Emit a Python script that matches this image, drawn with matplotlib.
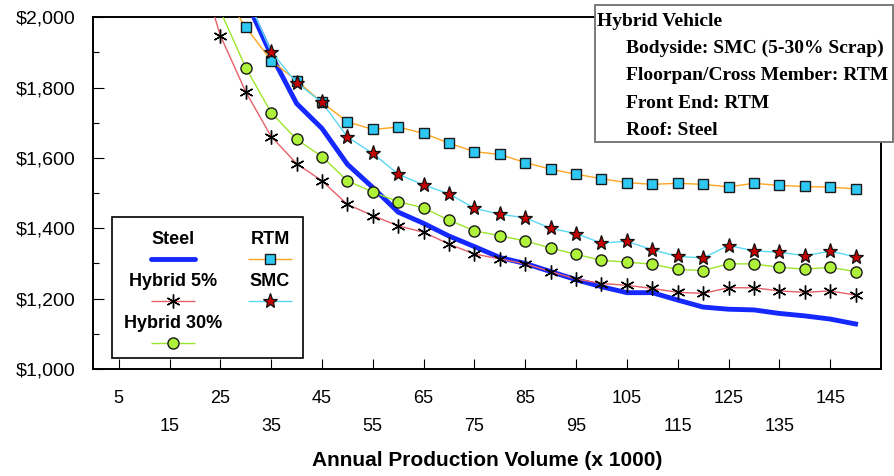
import numpy as np
import matplotlib
matplotlib.use("Agg")
import matplotlib.pyplot as plt
from matplotlib.patches import Rectangle
from matplotlib.lines import Line2D

# ---- data -------------------------------------------------------------
volume = [20, 25, 30, 35, 40, 45, 50, 55, 60, 65, 70, 75, 80, 85, 90,
          95, 100, 105, 110, 115, 120, 125, 130, 135, 140, 145, 150]

nan = np.nan
steel = [nan, nan, 2050, 1893, 1755, 1684, 1582, 1516, 1446, 1414, 1378,
         1348, 1317, 1300, 1277, 1254, 1234, 1217, 1217, 1196, 1176, 1170,
         1168, 1158, 1151, 1142, 1128]
rtm = [nan, 2080, 1972, 1877, 1820, 1758, 1703, 1681, 1688, 1670, 1642,
       1618, 1610, 1587, 1568, 1554, 1541, 1530, 1525, 1528, 1525, 1518,
       1528, 1522, 1519, 1517, 1512]
smc = [nan, nan, 2065, 1902, 1814, 1758, 1660, 1613, 1554, 1523, 1498,
       1457, 1440, 1430, 1400, 1385, 1358, 1363, 1339, 1320, 1316, 1351,
       1336, 1332, 1322, 1335, 1319]
hybrid_5 = [2186, 1948, 1788, 1661, 1584, 1535, 1468, 1436, 1407, 1389,
            1355, 1327, 1313, 1299, 1277, 1256, 1243, 1238, 1229, 1218,
            1215, 1231, 1231, 1222, 1218, 1222, 1210]
hybrid_30 = [nan, 2018, 1857, 1729, 1653, 1604, 1535, 1503, 1476, 1458,
             1423, 1393, 1379, 1364, 1344, 1326, 1309, 1304, 1298, 1283,
             1280, 1299, 1299, 1289, 1284, 1289, 1277]

xticks_row1 = [5, 25, 45, 65, 85, 105, 125, 145]
xticks_row2 = [15, 35, 55, 75, 95, 115, 135]
yticks = [1000, 1200, 1400, 1600, 1800, 2000]
yticks_minor = [1100, 1300, 1500, 1700, 1900]

box_title = "Hybrid Vehicle"
box_lines = ["Bodyside: SMC (5-30% Scrap)",
             "Floorpan/Cross Member: RTM",
             "Front End: RTM",
             "Roof: Steel"]

# ---- styles -----------------------------------------------------------
styles = {
    "Steel": dict(color="#1428ff", lw=3.5, marker=None),
    "RTM": dict(color="#ffa51f", lw=1.0, marker="s", ms=7.5,
                mfc="#2ec8f2", mec="#1a1a1a", mew=1.0),
    "SMC": dict(color="#5ad8f5", lw=1.0, marker="*", ms=11,
                mfc="#c40000", mec="#111111", mew=0.9),
    "Hybrid 5%": dict(color="#e5606a", lw=1.0, marker=(6, 2, 0), ms=10,
                      mfc="black", mec="black", mew=1.0),
    "Hybrid 30%": dict(color="#9be52a", lw=1.0, marker="o", ms=8,
                       mfc="#aef23a", mec="#1a1a1a", mew=1.0),
}
series = {"Steel": steel, "RTM": rtm, "SMC": smc,
          "Hybrid 5%": hybrid_5, "Hybrid 30%": hybrid_30}
draw_order = ["RTM", "SMC", "Hybrid 30%", "Hybrid 5%", "Steel"]

sans = "Liberation Sans"
serif = "Liberation Serif"

W, H = 894, 476
fig = plt.figure(figsize=(W / 100, H / 100), dpi=100)


def fx(px):
    return px / W


def fy(py):
    return 1 - py / H


left, right, top, bottom = 93.3, 881, 17.3, 369
ax = fig.add_axes([fx(left), fy(bottom), (right - left) / W, (bottom - top) / H])

for name in draw_order:
    st = styles[name]
    ax.plot(volume, series[name], color=st["color"], lw=st["lw"],
            marker=st.get("marker"), ms=st.get("ms", 0),
            mfc=st.get("mfc"), mec=st.get("mec"), mew=st.get("mew", 1),
            solid_joinstyle="round", zorder=3 if name != "Steel" else 2.8)

ax.set_xlim(0, 155)
ax.set_ylim(1000, 2000)

# x axis: two staggered rows of labels
ax.set_xticks(xticks_row1)
ax.set_xticklabels([str(v) for v in xticks_row1])
ax.set_xticks(xticks_row2, minor=True)
ax.set_xticklabels([str(v) for v in xticks_row2], minor=True)
ax.tick_params(axis="x", which="major", direction="in", length=7.2,
               width=0.8, pad=15, labelsize=13)
ax.tick_params(axis="x", which="minor", direction="in", length=7.2,
               width=0.8, pad=35, labelsize=13)

ax.set_yticks(yticks)
ax.set_yticklabels([f"${v:,}" for v in yticks])
ax.set_yticks(yticks_minor, minor=True)
ax.tick_params(axis="y", which="major", direction="in", length=8,
               width=0.8, pad=12.5, labelsize=14)
ax.tick_params(axis="y", which="minor", direction="in", length=4,
               width=0.8)
for lab in ax.get_xticklabels(which="both") + ax.get_yticklabels():
    lab.set_family(sans)

for sp in ax.spines.values():
    sp.set_linewidth(1.4)

fig.text(fx(487), fy(461), "Annual Production Volume (x 1000)",
         ha="center", va="center", fontsize=15, fontweight="bold",
         family=sans)

# ---- legend box (labels above their line samples) ---------------------
leg = Rectangle((fx(111.5), fy(358)), (303 - 111.5) / W, (358 - 217) / H,
                transform=fig.transFigure, facecolor="white",
                edgecolor="black", lw=1.2, zorder=6)
fig.patches.append(leg)

entries = [("Steel", 173, 244.3, 259),
           ("RTM", 270, 244.3, 259),
           ("Hybrid 5%", 173, 286, 300.7),
           ("SMC", 270, 286, 300.7),
           ("Hybrid 30%", 173, 328.3, 342.7)]
for name, cx, base, ly in entries:
    st = styles[name]
    fig.text(fx(cx), fy(base), name, ha="center", va="baseline",
             fontsize=13, fontweight="bold", family=sans, zorder=7)
    xs = [fx(cx - 22), fx(cx), fx(cx + 22)]
    line = Line2D(xs, [fy(ly)] * 3, transform=fig.transFigure,
                  color=st["color"], lw=st["lw"], marker=st.get("marker"),
                  ms=st.get("ms", 0), mfc=st.get("mfc"), mec=st.get("mec"),
                  mew=st.get("mew", 1), markevery=[1], zorder=7,
                  solid_capstyle="round" if name == "Steel" else "butt")
    fig.lines.append(line)

# ---- description box --------------------------------------------------
desc = Rectangle((fx(594.7), fy(141.7)), (892.5 - 594.7) / W, (141.7 - 4.7) / H,
                 transform=fig.transFigure, facecolor="white",
                 edgecolor="#707070", lw=1.3, zorder=6)
fig.patches.append(desc)
fig.text(fx(597), fy(25.7), box_title, ha="left", va="baseline",
         fontsize=14, fontweight="bold", family=serif, zorder=7)
for i, txt in enumerate(box_lines):
    fig.text(fx(626), fy(52.7 + 27.4 * i), txt, ha="left", va="baseline",
             fontsize=14, fontweight="bold", family=serif, zorder=7)

fig.savefig("out.png", dpi=100)
